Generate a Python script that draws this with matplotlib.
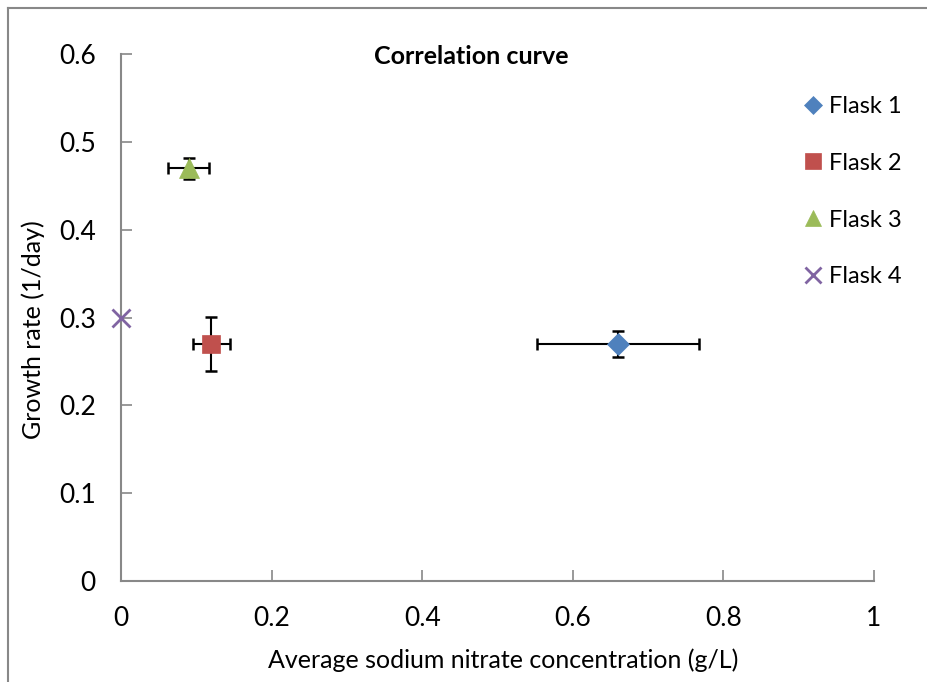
import matplotlib
matplotlib.use("Agg")
import matplotlib.pyplot as plt
from matplotlib.lines import Line2D

plt.rcParams['font.family'] = ['Lato', 'DejaVu Sans']

labels = ["Flask 1", "Flask 2", "Flask 3", "Flask 4"]
x_vals = [0.66, 0.12, 0.09, 0.0]
y_vals = [0.27, 0.27, 0.47, 0.30]
x_err = [0.108, 0.025, 0.027, 0.0]
y_err = [0.015, 0.031, 0.012, 0.0]
colors = ["#4F81BD", "#C0504D", "#9BBB59", "#8064A2"]
markers = ["D", "s", "^", "x"]
msizes = [11, 13, 14, 13]

x_ticks = [0, 0.2, 0.4, 0.6, 0.8, 1]
x_ticklabels = ["0", "0.2", "0.4", "0.6", "0.8", "1"]
y_ticks = [0, 0.1, 0.2, 0.3, 0.4, 0.5, 0.6]
y_ticklabels = ["0", "0.1", "0.2", "0.3", "0.4", "0.5", "0.6"]

fig = plt.figure(figsize=(9.28, 6.82), dpi=100)
ax = fig.add_axes([121/928, 1-581/682, (874-121)/928, (581-54)/682])

handles = []
for i in range(4):
    if x_err[i] > 0 or y_err[i] > 0:
        ax.errorbar(x_vals[i], y_vals[i], xerr=x_err[i], yerr=y_err[i], fmt='none',
                    ecolor='black', elinewidth=1.5, capsize=4.5, capthick=1.8, zorder=2,
                    clip_on=False)
    mew = 2 if markers[i] == 'x' else 0.5
    ax.plot(x_vals[i], y_vals[i], linestyle='none', marker=markers[i], markersize=msizes[i],
            color=colors[i], markeredgecolor=colors[i], markeredgewidth=mew, zorder=3,
            clip_on=False)
    handles.append(Line2D([], [], linestyle='none', marker=markers[i], markersize=msizes[i]*0.85,
                          color=colors[i], markeredgecolor=colors[i], markeredgewidth=mew))

ax.set_xlim(0, 1)
ax.set_ylim(0, 0.6)
ax.set_xticks(x_ticks)
ax.set_xticklabels(x_ticklabels)
ax.set_yticks(y_ticks)
ax.set_yticklabels(y_ticklabels)

for s in ['top', 'right']:
    ax.spines[s].set_visible(False)
for s in ['left', 'bottom']:
    ax.spines[s].set_color('#888888')
    ax.spines[s].set_linewidth(1.5)

ax.tick_params(axis='both', direction='in', length=8, width=1.2, color='#888888',
               labelsize=19, labelcolor='black')
ax.tick_params(axis='x', pad=18)
ax.tick_params(axis='y', pad=18)

fig.text(471/928, 1-56/682, "Correlation curve", fontsize=18, fontweight='bold',
         ha='center', va='center')
fig.text(503/928, 1-660/682, "Average sodium nitrate concentration (g/L)", fontsize=18,
         ha='center', va='center')
fig.text(33/928, 1-330/682, "Growth rate (1/day)", fontsize=18, rotation=90,
         ha='center', va='center')

leg = fig.legend(handles, labels, loc='upper left', bbox_to_anchor=(791/928, 1-84/682),
                 frameon=False, fontsize=17, labelspacing=1.52, handlelength=0.9,
                 handletextpad=0.2, borderpad=0)

# chart frame lines (left and top visible)
fig.add_artist(Line2D([8/928, 8/928], [0, 1-8/682], transform=fig.transFigure,
                      color='#888888', linewidth=1.5))
fig.add_artist(Line2D([8/928, 1], [1-8/682, 1-8/682], transform=fig.transFigure,
                      color='#888888', linewidth=1.5))

fig.savefig("out.png", dpi=100)
